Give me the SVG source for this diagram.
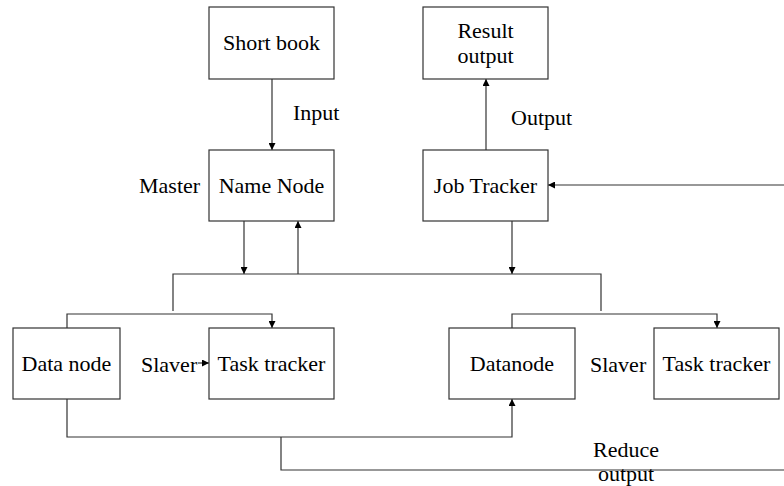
<svg xmlns="http://www.w3.org/2000/svg" width="784" height="486" viewBox="0 0 784 486">
  <defs>
    <marker id="arrow" viewBox="0 0 10 10" refX="10" refY="5" markerWidth="7" markerHeight="7" markerUnits="userSpaceOnUse" orient="auto">
      <path d="M0,0 L10,5 L0,10 z" fill="#000"/>
    </marker>
  </defs>
  <style>
    .box { fill: #fff; stroke: #333; stroke-width: 1.2; }
    .lbl { font-family: "Liberation Serif", "Times New Roman", serif; font-size: 22px; fill: #000; }
    .mid { text-anchor: middle; }
    .wire { fill: none; stroke: #333; stroke-width: 1.2; }
    .arr { marker-end: url(#arrow); }
  </style>
  <rect width="784" height="486" fill="#fff"/>

  <g id="connectors">
    <!-- Short book -> Name Node -->
    <line class="wire arr" x1="272" y1="79" x2="272" y2="150"/>
    <!-- Job Tracker -> Result output -->
    <line class="wire arr" x1="486" y1="150" x2="486" y2="79"/>
    <!-- feedback from the right into Job Tracker -->
    <line class="wire arr" x1="784" y1="185" x2="548" y2="185"/>
    <!-- Name Node to bus and back -->
    <line class="wire arr" x1="244" y1="221" x2="244" y2="274"/>
    <line class="wire arr" x1="298" y1="274" x2="298" y2="221"/>
    <!-- Job Tracker to bus -->
    <line class="wire arr" x1="512" y1="221" x2="512" y2="274"/>
    <!-- bus -->
    <path class="wire" d="M173,311 V274 H601 V311"/>
    <!-- left slave pair -->
    <path class="wire arr" d="M67,328 V314 H272 V328"/>
    <line class="wire arr" x1="198" y1="363" x2="209" y2="363"/>
    <!-- right slave pair -->
    <path class="wire arr" d="M512,328 V314 H717 V328"/>
    <!-- Data node -> Datanode -->
    <path class="wire arr" d="M67,399 V437 H512 V399"/>
    <!-- reduce output -->
    <path class="wire" d="M281,437 V470 H784"/>
  </g>

  <g id="short-book">
    <rect class="box" x="209" y="7" width="125" height="72"/>
    <text class="lbl mid" x="271.5" y="50">Short book</text>
  </g>
  <g id="result-output">
    <rect class="box" x="423" y="7" width="125" height="72"/>
    <text class="lbl mid" x="485.5" y="38">Result</text>
    <text class="lbl mid" x="485.5" y="63">output</text>
  </g>
  <g id="name-node">
    <rect class="box" x="209" y="150" width="125" height="71"/>
    <text class="lbl mid" x="271.5" y="193">Name Node</text>
  </g>
  <g id="job-tracker">
    <rect class="box" x="423" y="150" width="125" height="71"/>
    <text class="lbl mid" x="485.5" y="193">Job Tracker</text>
  </g>
  <g id="data-node">
    <rect class="box" x="13" y="328" width="107" height="71"/>
    <text class="lbl mid" x="66.5" y="371">Data node</text>
  </g>
  <g id="task-tracker-left">
    <rect class="box" x="209" y="328" width="125" height="71"/>
    <text class="lbl mid" x="271.5" y="371">Task tracker</text>
  </g>
  <g id="datanode">
    <rect class="box" x="449" y="328" width="126" height="71"/>
    <text class="lbl mid" x="512" y="371">Datanode</text>
  </g>
  <g id="task-tracker-right">
    <rect class="box" x="654" y="328" width="125" height="71"/>
    <text class="lbl mid" x="716.5" y="371">Task tracker</text>
  </g>

  <g id="labels">
    <text class="lbl" x="293" y="120">Input</text>
    <text class="lbl" x="511" y="125">Output</text>
    <text class="lbl" x="139" y="193">Master</text>
    <text class="lbl" x="141" y="372">Slaver</text>
    <text class="lbl" x="590" y="372">Slaver</text>
    <text class="lbl mid" x="626" y="457">Reduce</text>
    <text class="lbl mid" x="626" y="481">output</text>
  </g>
</svg>
